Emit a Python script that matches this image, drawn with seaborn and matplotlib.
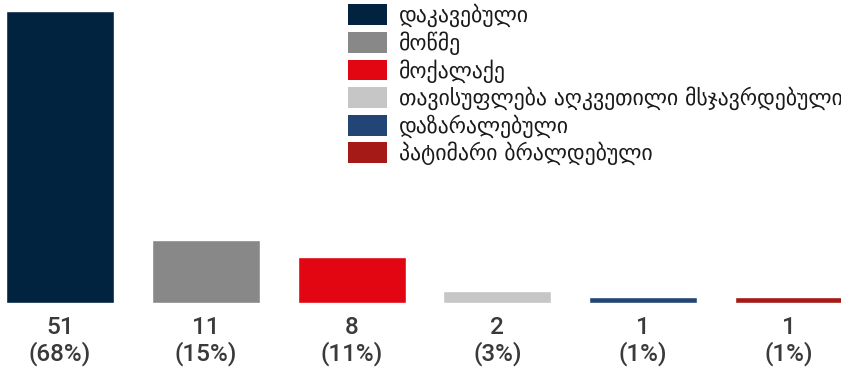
import matplotlib
matplotlib.use("Agg")
import matplotlib.pyplot as plt
import seaborn as sns
import pandas as pd
from matplotlib.patches import Patch

categories = ["დაკავებული", "მოწმე", "მოქალაქე",
              "თავისუფლება აღკვეთილი მსჯავრდებული", "დაზარალებული",
              "პატიმარი ბრალდებული"]
values = [51, 11, 8, 2, 1, 1]
percents = ["68%", "15%", "11%", "3%", "1%", "1%"]
colors = ["#02233F", "#888888", "#E20613", "#C6C6C6", "#234575", "#A51916"]

sns.set_theme(style="white")
plt.rcParams["font.family"] = ["DejaVu Sans"]

W, H = 841, 371
fig = plt.figure(figsize=(W / 100, H / 100), dpi=100)
bottom_px = 302.7
ax = fig.add_axes([0, (H - bottom_px) / H, 1, bottom_px / H])

df = pd.DataFrame({"cat": categories, "val": values})
sns.barplot(data=df, x="cat", y="val", hue="cat", palette=colors,
            width=0.74, legend=False, ax=ax, saturation=1)

step = 145.8
x0 = 60.0
ax.set_xlim(-x0 / step, (W - x0) / step)
ax.set_ylim(0, bottom_px / (291.7 / 51))
ax.axis("off")

for i, (v, p) in enumerate(zip(values, percents)):
    ax.text(i, -13 / bottom_px, f"{v}\n({p})", transform=ax.get_xaxis_transform(),
            ha="center", va="top", fontsize=17.5, color="#3A3A3A",
            family="Roboto", fontweight="medium", linespacing=1.12,
            clip_on=False)

F = 15.7
fpx = F * 100 / 72
handles = [Patch(facecolor=c, edgecolor="none") for c in colors]
fig.legend(handles, categories, loc="upper left",
           bbox_to_anchor=(348 / W, 1 - 4 / H), frameon=False,
           fontsize=F, handlelength=39 / fpx, handleheight=24 / fpx,
           labelspacing=4 / fpx, handletextpad=12 / fpx,
           borderpad=0, borderaxespad=0, labelcolor="#1A1A1A")

fig.savefig("out.png", dpi=100)
